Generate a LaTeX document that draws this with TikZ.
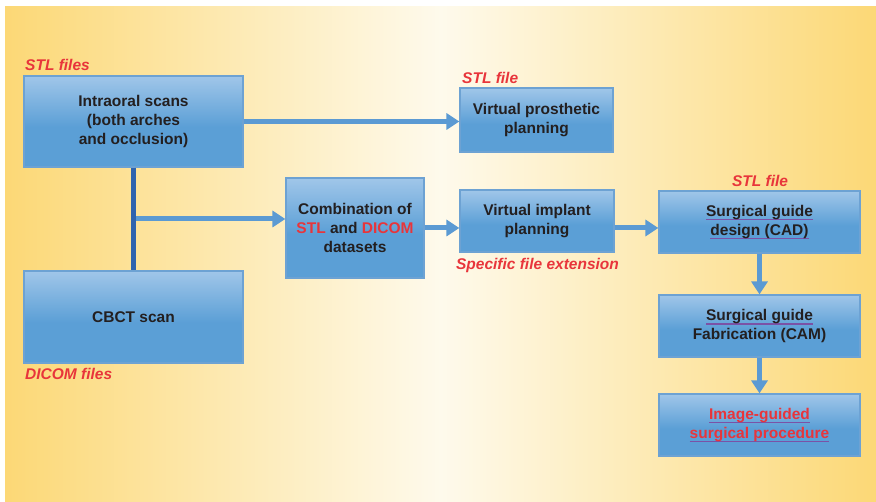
\documentclass[tikz,border=0pt]{standalone}
\usepackage{fontspec}
\setmainfont{Liberation Sans}
\usepackage{xcolor}
\usepackage{tikz}
\usetikzlibrary{arrows.meta,positioning,calc}
\definecolor{bgy}{HTML}{FCD876}
\definecolor{bgw}{HTML}{FEFAEC}
\definecolor{boxtop}{HTML}{A0C6E9}
\definecolor{boxbot}{HTML}{5B9FD6}
\definecolor{boxline}{HTML}{6DA2D3}
\definecolor{flow}{HTML}{5B9AD3}
\definecolor{trunkblue}{HTML}{2F63AE}
\definecolor{tag}{HTML}{E8353B}
\definecolor{ink}{HTML}{231F20}
\definecolor{ulpurple}{HTML}{7B52A6}
\pgfdeclareverticalshading{boxshade}{100bp}{color(0bp)=(boxbot); color(47bp)=(boxbot); color(75bp)=(boxtop); color(100bp)=(boxtop)}
\newcommand\pline[1]{\setbox0\hbox{#1}\rlap{\color{ulpurple}\rule[-4pt]{\wd0}{1.5pt}}\box0}

\begin{document}
\begin{tikzpicture}[x=1pt, y=-1pt,
  box/.style={draw=boxline, line width=1.2pt, shading=boxshade, font=\fontsize{15.5}{19}\selectfont\bfseries, text=ink, align=center, inner sep=0pt},
  tagl/.style={font=\fontsize{15.5}{19}\selectfont\bfseries\itshape, text=tag, inner sep=0pt},
  arr/.style={-{Triangle[length=13pt,width=16pt]}, line width=5pt, flow},
  trunk/.style={line width=4.5pt, trunkblue}]
  \useasboundingbox (0,0) rectangle (876,502);
  \shade[left color=bgy, right color=bgy, middle color=bgw] (5,7) rectangle (876,502);
  \node[box, minimum width=219pt, minimum height=91pt] (intra) at (133.5,121.5) {Intraoral scans\\(both arches\\and occlusion)};
  \node[box, minimum width=219pt, minimum height=92pt] (cbct) at (133.5,317) {CBCT scan};
  \node[box, minimum width=138pt, minimum height=100pt] (combo) at (355,228) {Combination of\\{\color{tag}STL} and {\color{tag}DICOM}\\datasets};
  \node[box, minimum width=153pt, minimum height=64pt] (prost) at (536.5,120) {Virtual prosthetic\\planning};
  \node[box, minimum width=154pt, minimum height=62pt] (implant) at (537,221) {Virtual implant\\planning};
  \node[box, minimum width=201pt, minimum height=62pt] (design) at (759.5,222) {\pline{Surgical guide}\\\pline{design (CAD)}};
  \node[box, minimum width=201pt, minimum height=62pt] (fab) at (759.5,326) {\pline{Surgical guide}\\Fabrication (CAM)};
  \node[box, minimum width=201pt, minimum height=62pt, text=tag] (guided) at (759.5,425) {\pline{Image-guided}\\\pline{surgical procedure}};
  % file tags
  \node[tagl, anchor=base west] (stlin) at (25,71) {STL files};
  \node[tagl, anchor=base west] (dicomin) at (25,380) {DICOM files};
  \node[tagl, anchor=base west] (stlprost) at (462,84) {STL file};
  \node[tagl, anchor=base] (ext) at (537.5,270) {Specific file extension};
  \node[tagl, anchor=base] (stlguide) at (760,187) {STL file};
  \coordinate (fork) at (133.5,219);
  \draw[arr] (fork) -- (fork -| combo.west);
  \draw[trunk] (intra.south) -- (cbct.north);
  \draw[arr] (intra.east) -- (intra.east -| prost.west);
  \draw[arr] (combo.east) -- (combo.east -| implant.west);
  \draw[arr] (implant.east |- combo.east) -- (combo.east -| design.west);
  \draw[arr] (design.south) -- (fab.north);
  \draw[arr] (fab.south) -- (guided.north);
\end{tikzpicture}
\end{document}
